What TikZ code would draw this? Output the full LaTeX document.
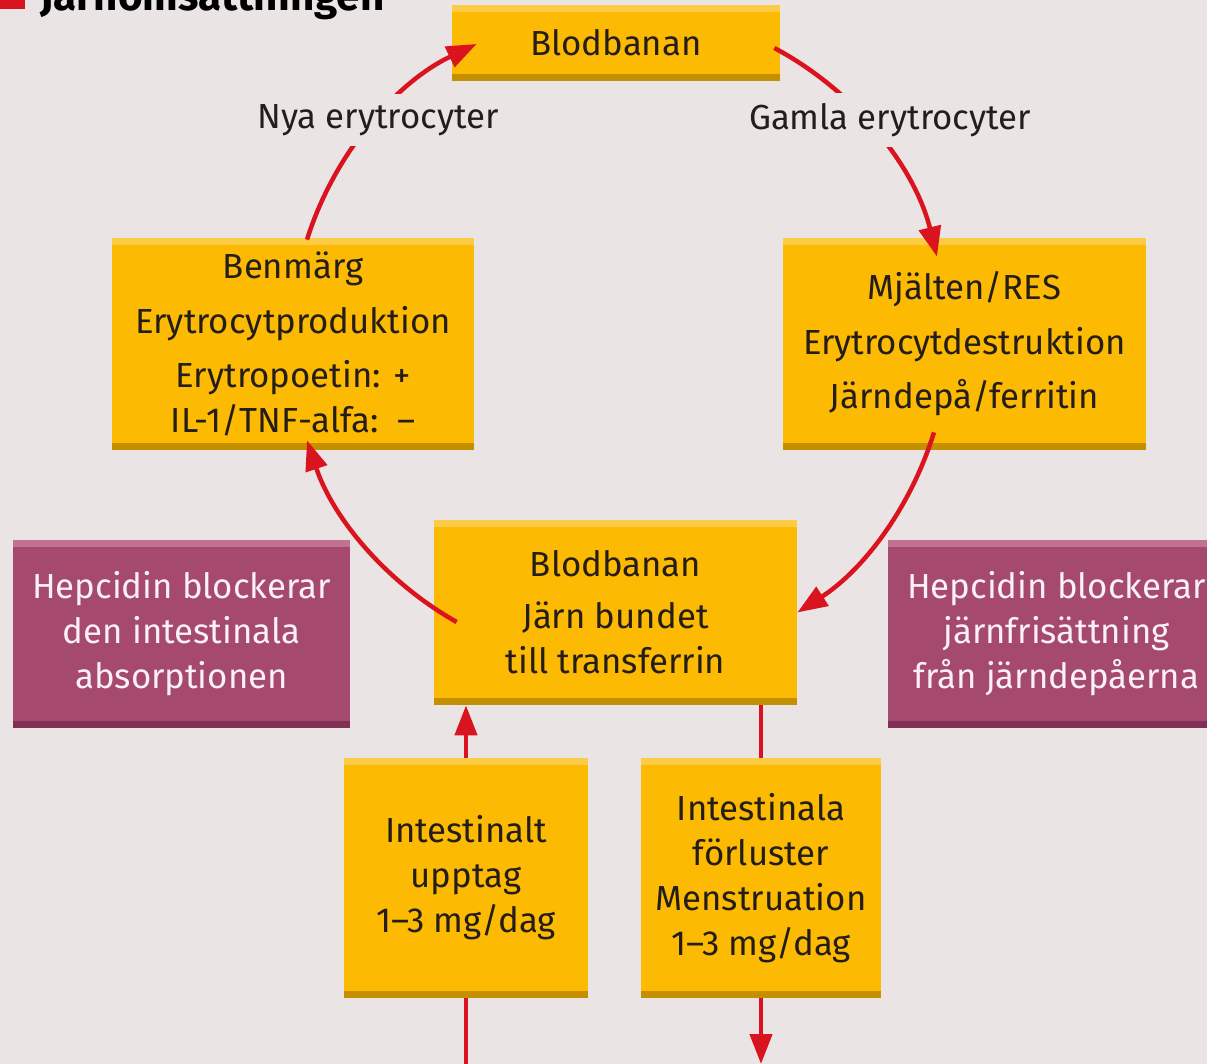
\documentclass[tikz,border=0pt]{standalone}
\usepackage{fontspec}
\setmainfont{Fira Sans}
\usetikzlibrary{arrows.meta,calc}
\definecolor{bg}{RGB}{234,228,229}
\definecolor{ymain}{RGB}{252,186,3}
\definecolor{ylight}{RGB}{253,204,70}
\definecolor{ydark}{RGB}{196,144,0}
\definecolor{mmain}{RGB}{166,73,110}
\definecolor{mlight}{RGB}{192,115,145}
\definecolor{mdark}{RGB}{128,48,84}
\definecolor{ink}{RGB}{36,29,26}
\definecolor{mtext}{RGB}{250,240,245}
\definecolor{arrred}{RGB}{218,20,30}
\newcommand{\bodysize}{\fontsize{19.8pt}{25.6pt}\selectfont}
\begin{document}
\begin{tikzpicture}[x=0.02cm,y=0.02cm,
  sz/.style 2 args={minimum width=#1*0.02cm, minimum height=#2*0.02cm},
  stripes/.style 2 args={path picture={
    \fill[#1] (path picture bounding box.north west) rectangle ([yshift=-0.14cm]path picture bounding box.north east);
    \fill[#2] (path picture bounding box.south west) rectangle ([yshift=0.14cm]path picture bounding box.south east);}},
  ybox/.style={fill=ymain, text=ink, align=center, inner sep=0pt, font=\bodysize, stripes={ylight}{ydark}},
  mbox/.style={fill=mmain, text=mtext, align=center, inner sep=0pt, font=\bodysize, stripes={mlight}{mdark}},
  lbl/.style={fill=bg, text=ink, font=\bodysize, inner xsep=2pt, inner ysep=0.2cm},
  conn/.style={draw=arrred, line width=0.09cm},
  arr/.style={conn, -{Triangle[length=0.6cm,width=0.44cm]}}
]
\clip (0,0) rectangle (1207,-1064);
\fill[bg] (0,0) rectangle (1207,-1064);

% title (cut off at the top)
\fill[arrred] (0,0) rectangle (25,-9);
\node[anchor=base west, inner sep=0pt, font=\bfseries\fontsize{24pt}{27pt}\selectfont, text=black] (title) at (40,-11) {Järnomsättningen};

% boxes
\node[ybox, sz={328}{76}] (top) at (616,-43) {Blodbanan};
\node[ybox, sz={362}{212}] (benmarg) at (293,-344) {Benmärg\\[5.5pt]Erytrocytproduktion\\[5.5pt]Erytropoetin: +\\IL-1/TNF-alfa:\ \ –};
\node[ybox, sz={363}{212}] (mjalten) at (964.5,-344) {Mjälten/RES\\[5.5pt]Erytrocytdestruktion\\[5.5pt]Järndepå/ferritin};
\node[ybox, sz={363}{185}] (mid) at (615.5,-612.5) {Blodbanan\\[4pt]Järn bundet\\till transferrin};
\node[mbox, sz={337}{188}] (hepL) at (181.5,-634) {Hepcidin blockerar\\den intestinala\\absorptionen};
\node[mbox, sz={337}{188}] (hepR) at (1056.5,-634) {Hepcidin blockerar\\järnfrisättning\\från järndepåerna};
\node[ybox, sz={244}{240}] (upt) at (466,-878) {Intestinalt\\upptag\\1–3 mg/dag};
\node[ybox, sz={240}{240}] (loss) at (761,-878) {Intestinala\\förluster\\Menstruation\\1–3 mg/dag};

% cycle arcs
\draw[arr] ($(benmarg.north)+(14,-2)$) to[bend left=23.5, looseness=0.89] ($(top.west)+(25,-1)$);
\draw[arr] ($(top.east)+(-6,-5)$) to[bend left=24, looseness=0.89] ($(mjalten.north)+(-27.5,-19)$);
\draw[arr] ($(mjalten.south)+(-30.5,18)$) to[bend left=20, looseness=0.89] (mid.east);
\draw[arr] ($(mid.west)+(23,-9.5)$) to[bend left=21, looseness=0.89] ($(benmarg.south)+(14,10)$);

% labels on the arcs
\node[lbl] (nya) at (378,-120) {Nya erytrocyter};
\node[lbl] (gamla) at (890,-120) {Gamla erytrocyter};

% intake / loss
\coordinate (inBot) at (466,-1064);
\coordinate (outBot) at (761,-1064);
\draw[conn] (inBot) -- (upt.south);
\draw[arr] (upt.north) -- (upt.north |- mid.south);
\draw[conn] (mid.south -| loss.north) -- (loss.north);
\draw[arr] (loss.south) -- (outBot);
\end{tikzpicture}
\end{document}
